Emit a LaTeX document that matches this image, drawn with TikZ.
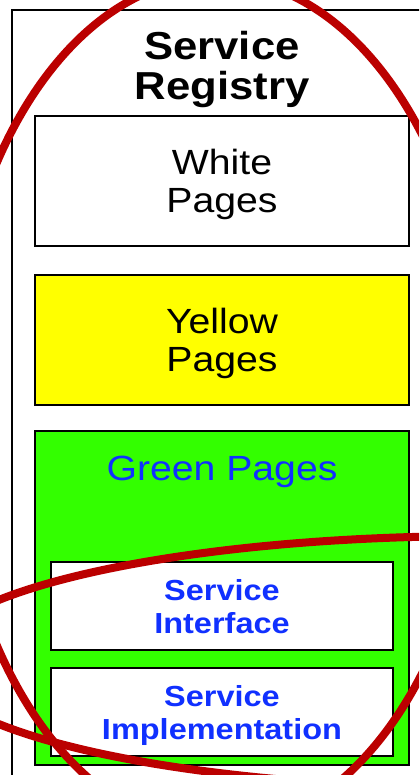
\documentclass[tikz,border=0pt]{standalone}
\usepackage{fontspec}
\setmainfont[FakeStretch=1.12]{Liberation Sans}
\usetikzlibrary{positioning}

\definecolor{ypage}{RGB}{255,255,0}
\definecolor{gpage}{RGB}{51,255,0}
\definecolor{gtext}{RGB}{16,48,255}
\definecolor{mark}{RGB}{187,0,0}

\tikzset{
    page/.style={draw, line width=0.9pt, inner sep=0pt, outer sep=0pt, minimum width=187pt, minimum height=65pt, align=center, text depth=0pt, font=\fontsize{17.5}{19}\selectfont},
    entry/.style={draw, line width=0.9pt, fill=white, inner sep=0pt, outer sep=0pt, minimum width=171pt, minimum height=44pt, align=center, text depth=0pt, text=gtext, font=\bfseries\fontsize{14.5}{16.5}\selectfont},
    ring/.style={draw=mark, line width=4pt}
}

\begin{document}
\begin{tikzpicture}[x=0.5pt, y=-0.5pt]
    \clip (0,0) rectangle (419,775);
    \fill[white] (0,0) rectangle (419,775);

    %% registry frame
    \draw[line width=1pt] (12,790) |- (430,10);

    % Nodes
    \node[page] (white) at (222,181) {White\\Pages};
    \node[page, fill=ypage, below=14.5pt of white] (yellow) {Yellow\\Pages};
    \node[page, fill=gpage, below=13pt of yellow, minimum height=167pt] (green) {};
    \node[inner sep=0pt, align=center, font=\bfseries\fontsize{19.5}{20}\selectfont, above=4pt of white] (title) {Service\\Registry};
    \node[anchor=base, text=gtext, font=\fontsize{17.5}{19}\selectfont] (gtitle) at ([yshift=-24.5pt]green.north) {Green Pages};
    \node[entry, below=65.5pt of green.north] (iface) {Service\\Interface};
    \node[entry, below=9pt of iface] (impl) {Service\\Implementation};

    %% hand-drawn rings
    \draw[ring] (216,404) ellipse [x radius=266, y radius=426];
    \draw[ring] (482,662) ellipse [x radius=555, y radius=126];
\end{tikzpicture}
\end{document}
